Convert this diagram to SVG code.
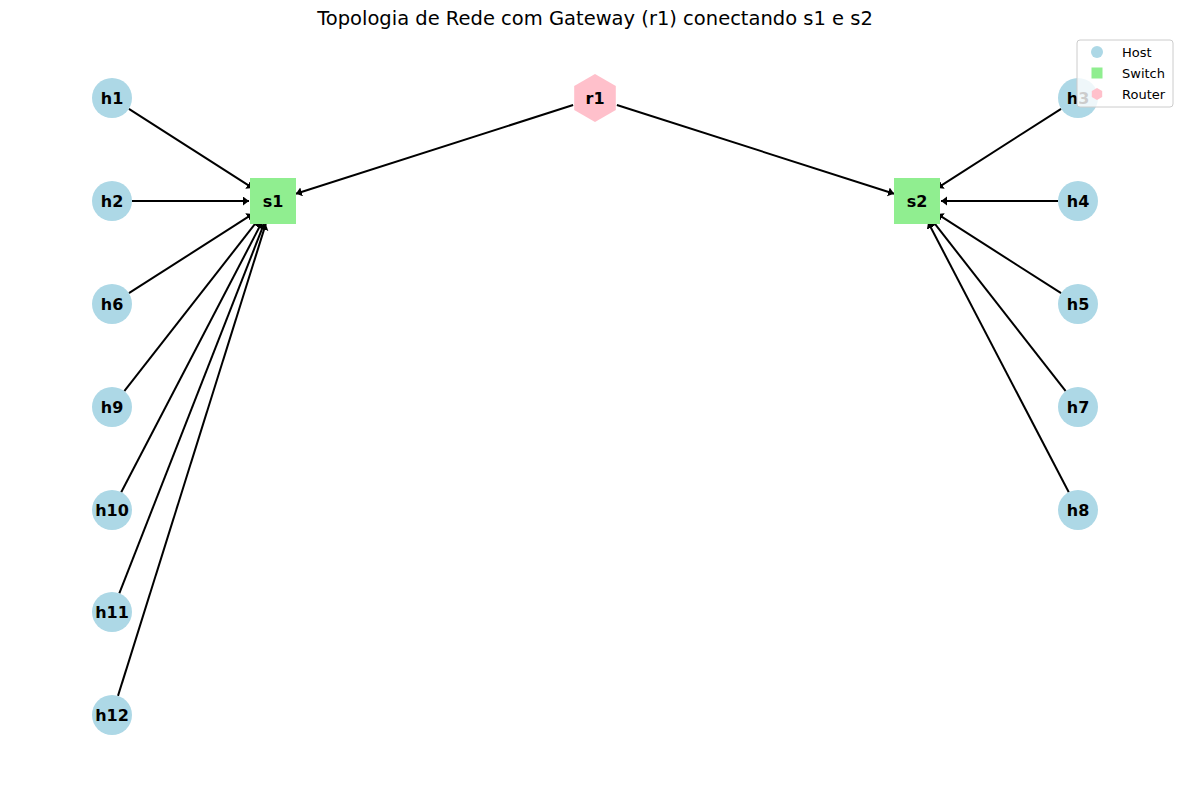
<svg xmlns="http://www.w3.org/2000/svg" width="1189" height="790" viewBox="0 0 1189 790">
<defs>
<style>
.host{fill:#ADD8E6}
.switch{fill:#90EE90}
.router{fill:#FFC0CB}
.lbl{font-family:"DejaVu Sans",sans-serif;font-weight:bold;font-size:16px;fill:#000;text-anchor:middle;dominant-baseline:central}
.edge{stroke:#000;stroke-width:2;fill:none;marker-end:url(#arr)}
.leg{font-family:"DejaVu Sans",sans-serif;font-size:13px;fill:#000}
</style>
<marker id="arr" markerUnits="userSpaceOnUse" markerWidth="8" markerHeight="10" refX="6" refY="4.5" orient="auto">
<path d="M0,0 L6,4.5 L0,9 z" fill="#000"/>
</marker>
</defs>
<rect width="1189" height="790" fill="#fff"/>
<text x="595" y="25" font-family="DejaVu Sans,sans-serif" font-size="19.5" text-anchor="middle">Topologia de Rede com Gateway (r1) conectando s1 e s2</text>
<g id="connectors">
<line class="edge" x1="128.9" y1="108.8" x2="252.8" y2="188.1"/>
<line class="edge" x1="132" y1="201" x2="249" y2="201"/>
<line class="edge" x1="128.9" y1="293.2" x2="252.8" y2="213.9"/>
<line class="edge" x1="124.3" y1="391.2" x2="258.2" y2="219.9"/>
<line class="edge" x1="121.2" y1="492.3" x2="261.9" y2="222.3"/>
<line class="edge" x1="119.3" y1="593.4" x2="264.2" y2="223.3"/>
<line class="edge" x1="118" y1="695.9" x2="265.8" y2="223.9"/>
<line class="edge" x1="1061.1" y1="108.8" x2="937.2" y2="188.1"/>
<line class="edge" x1="1058" y1="201" x2="941" y2="201"/>
<line class="edge" x1="1061.1" y1="293.2" x2="937.2" y2="213.9"/>
<line class="edge" x1="1065.7" y1="391.2" x2="931.8" y2="219.9"/>
<line class="edge" x1="1068.8" y1="492.3" x2="928.1" y2="222.3"/>
<line class="edge" x1="573.1" y1="105" x2="295.9" y2="193.7"/>
<line class="edge" x1="616.9" y1="105" x2="894.1" y2="193.7"/>
</g>
<g id="h1"><circle class="host" cx="112" cy="98" r="20"/><text class="lbl" x="112" y="98">h1</text></g>
<g id="h2"><circle class="host" cx="112" cy="201" r="20"/><text class="lbl" x="112" y="201">h2</text></g>
<g id="h6"><circle class="host" cx="112" cy="304" r="20"/><text class="lbl" x="112" y="304">h6</text></g>
<g id="h9"><circle class="host" cx="112" cy="407" r="20"/><text class="lbl" x="112" y="407">h9</text></g>
<g id="h10"><circle class="host" cx="112" cy="510" r="20"/><text class="lbl" x="112" y="510">h10</text></g>
<g id="h11"><circle class="host" cx="112" cy="612" r="20"/><text class="lbl" x="112" y="612">h11</text></g>
<g id="h12"><circle class="host" cx="112" cy="715" r="20"/><text class="lbl" x="112" y="715">h12</text></g>
<g id="h3"><circle class="host" cx="1078" cy="98" r="20"/><text class="lbl" x="1078" y="98">h3</text></g>
<g id="h4"><circle class="host" cx="1078" cy="201" r="20"/><text class="lbl" x="1078" y="201">h4</text></g>
<g id="h5"><circle class="host" cx="1078" cy="304" r="20"/><text class="lbl" x="1078" y="304">h5</text></g>
<g id="h7"><circle class="host" cx="1078" cy="407" r="20"/><text class="lbl" x="1078" y="407">h7</text></g>
<g id="h8"><circle class="host" cx="1078" cy="510" r="20"/><text class="lbl" x="1078" y="510">h8</text></g>
<g id="s1"><rect class="switch" x="250" y="178" width="46" height="46"/><text class="lbl" x="273" y="201">s1</text></g>
<g id="s2"><rect class="switch" x="894" y="178" width="46" height="46"/><text class="lbl" x="917" y="201">s2</text></g>
<g id="r1"><polygon class="router" points="595,74 615.8,86 615.8,110 595,122 574.2,110 574.2,86"/><text class="lbl" x="595" y="98">r1</text></g>
<g id="legend">
<rect x="1077" y="40" width="96" height="67" rx="3" fill="#fff" fill-opacity="0.8" stroke="#ccc" stroke-width="1"/>
<circle class="host" cx="1097" cy="52" r="6"/>
<rect class="switch" x="1091.5" y="67.5" width="11" height="11"/>
<polygon class="router" points="1097,88 1102.2,91 1102.2,97 1097,100 1091.8,97 1091.8,91"/>
<text class="leg" x="1122" y="57">Host</text>
<text class="leg" x="1122" y="78">Switch</text>
<text class="leg" x="1122" y="99">Router</text>
</g>
</svg>
